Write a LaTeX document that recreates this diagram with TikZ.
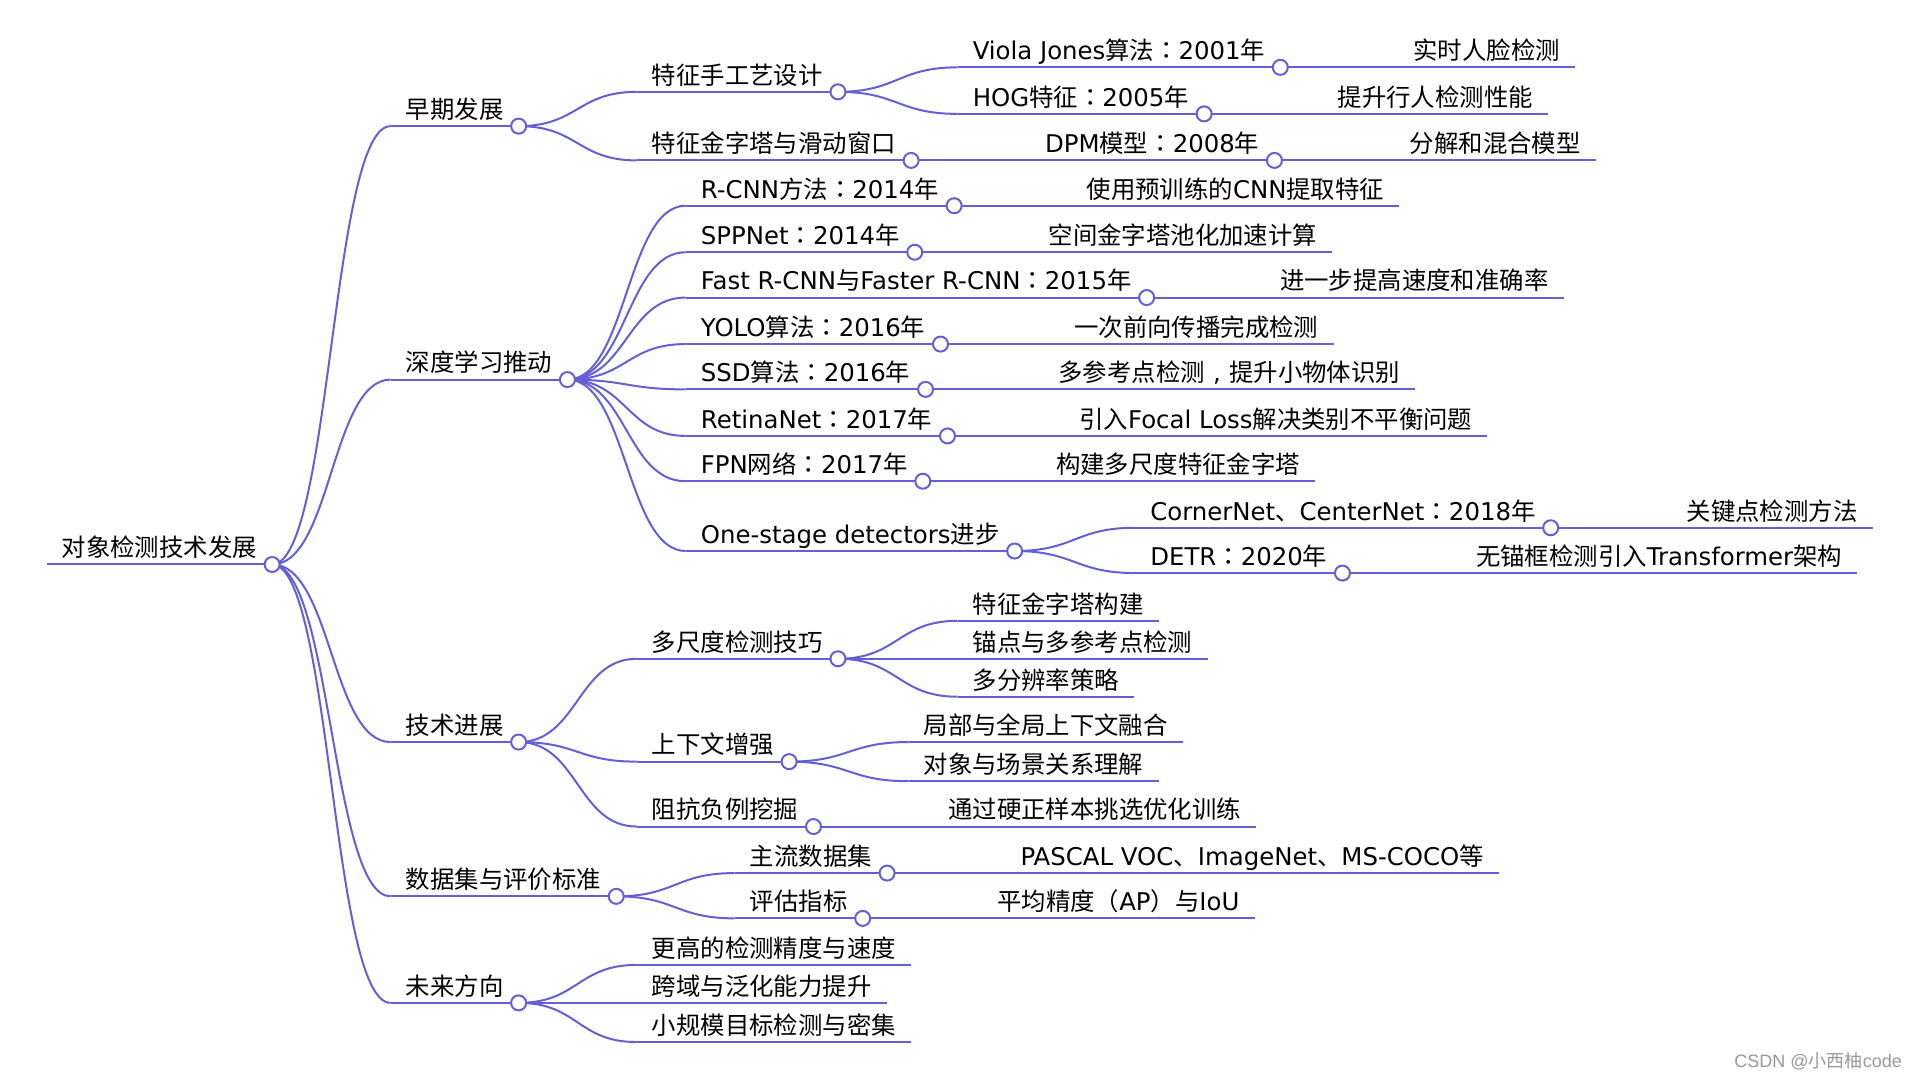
\documentclass[tikz,border=0pt]{standalone}
\usepackage{fontspec}
\setmainfont{DejaVu Sans}
\newfontfamily\zhfont{Noto Sans CJK SC}
\newfontfamily\krfont{Noto Sans CJK KR}
\newfontfamily\wmfont{Liberation Sans}
\usetikzlibrary{calc}
\definecolor{branchc}{RGB}{100,95,215}
\newcommand\en[1]{{\rmfamily #1}}
\newcommand\fcol{{\krfont ：}}
\newcommand\fcom{\makebox[1em]{\rmfamily ,}}
% horizontal link from a parent's dot to a child's underline
\newcommand\lnk[2]{%
  \path (#1.south east) coordinate (s) (#2.south west) coordinate (t);
  \path ($(s)!0.5!(t)$) coordinate (m);
  \draw[branch] (s) .. controls (m |- s) and (m |- t) .. (t);}
\begin{document}
\begin{tikzpicture}[x=1.22449pt,y=1.22449pt,yscale=-1,
  tp/.style={anchor=south west,inner xsep=15pt,inner ysep=7.5pt,text depth=0pt,
    font=\zhfont\fontsize{24.4pt}{29pt}\selectfont},
  branch/.style={draw=branchc,line width=2pt},
  dot/.style={draw=branchc,fill=white,line width=2pt}]
\useasboundingbox (0,0) rectangle (1568,882);

% Root
\node[tp] (root) at (38,461) {对象检测技术发展};

% Level 1
\node[tp] (early) at (319,103) {早期发展};
\node[tp] (deep) at (319,310) {深度学习推动};
\node[tp] (tech) at (319,606) {技术进展};
\node[tp] (data) at (319,732) {数据集与评价标准};
\node[tp] (future) at (319,819) {未来方向};

% Early development
\node[tp] (hand) at (520,75) {特征手工艺设计};
\node[tp] (pyr) at (520,131) {特征金字塔与滑动窗口};
\node[tp] (viola) at (782,55) {\en{Viola Jones}算法\fcol\en{2001}年};
\node[tp] (hog) at (782,93) {\en{HOG}特征\fcol\en{2005}年};
\node[tp] (dpm) at (841,131) {\en{DPM}模型\fcol\en{2008}年};
\node[tp] (face) at (1142,55) {实时人脸检测};
\node[tp] (ped) at (1080,93) {提升行人检测性能};
\node[tp] (mix) at (1139,131) {分解和混合模型};

% Deep learning
\node[tp] (rcnn) at (560,168) {\en{R-CNN}方法\fcol\en{2014}年};
\node[tp] (spp) at (560,206) {\en{SPPNet}\fcol\en{2014}年};
\node[tp] (fast) at (560,243) {\en{Fast R-CNN}与\en{Faster R-CNN}\fcol\en{2015}年};
\node[tp] (yolo) at (560,281) {\en{YOLO}算法\fcol\en{2016}年};
\node[tp] (ssd) at (560,318) {\en{SSD}算法\fcol\en{2016}年};
\node[tp] (retina) at (560,356) {\en{RetinaNet}\fcol\en{2017}年};
\node[tp] (fpn) at (560,393) {\en{FPN}网络\fcol\en{2017}年};
\node[tp] (onest) at (560,450) {\en{One-stage detectors}进步};
\node[tp] (rcnnx) at (875,168) {使用预训练的\en{CNN}提取特征};
\node[tp] (sppx) at (844,206) {空间金字塔池化加速计算};
\node[tp] (fastx) at (1033,243) {进一步提高速度和准确率};
\node[tp] (yolox) at (865,281) {一次前向传播完成检测};
\node[tp] (ssdx) at (852,318) {多参考点检测\fcom 提升小物体识别};
\node[tp] (retinax) at (869,356) {引入\en{Focal Loss}解决类别不平衡问题};
\node[tp] (fpnx) at (850,393) {构建多尺度特征金字塔};
\node[tp] (corner) at (927,431) {\en{CornerNet}、\en{CenterNet}\fcol\en{2018}年};
\node[tp] (detr) at (927,468) {\en{DETR}\fcol\en{2020}年};
\node[tp] (cornerx) at (1365,431) {关键点检测方法};
\node[tp] (detrx) at (1193,468) {无锚框检测引入\en{Transformer}架构};

% Techniques
\node[tp] (multi) at (520,538) {多尺度检测技巧};
\node[tp] (ctx) at (520,622) {上下文增强};
\node[tp] (neg) at (520,675) {阻抗负例挖掘};
\node[tp] (m1) at (782,507) {特征金字塔构建};
\node[tp] (m2) at (782,538) {锚点与多参考点检测};
\node[tp] (m3) at (782,569) {多分辨率策略};
\node[tp] (c1) at (742,606) {局部与全局上下文融合};
\node[tp] (c2) at (742,638) {对象与场景关系理解};
\node[tp] (negx) at (762,675) {通过硬正样本挑选优化训练};

% Datasets
\node[tp] (mainset) at (600,713) {主流数据集};
\node[tp] (metric) at (600,750) {评估指标};
\node[tp] (mainsetx) at (821,713) {\en{PASCAL VOC}、\en{ImageNet}、\en{MS-COCO}等};
\node[tp] (metricx) at (802,750) {平均精度（\en{AP}）与\en{IoU}};

% Future
\node[tp] (f1) at (520,788) {更高的检测精度与速度};
\node[tp] (f2) at (520,819) {跨域与泛化能力提升};
\node[tp] (f3) at (520,851) {小规模目标检测与密集};

% Curve Lines
\foreach \p/\c in {root/early,root/deep,root/tech,root/data,root/future,
  early/hand,early/pyr,hand/viola,hand/hog,viola/face,hog/ped,pyr/dpm,dpm/mix,
  deep/rcnn,deep/spp,deep/fast,deep/yolo,deep/ssd,deep/retina,deep/fpn,deep/onest,
  rcnn/rcnnx,spp/sppx,fast/fastx,yolo/yolox,ssd/ssdx,retina/retinax,fpn/fpnx,
  onest/corner,onest/detr,corner/cornerx,detr/detrx,
  tech/multi,tech/ctx,tech/neg,multi/m1,multi/m2,multi/m3,ctx/c1,ctx/c2,neg/negx,
  data/mainset,data/metric,mainset/mainsetx,metric/metricx,
  future/f1,future/f2,future/f3}
  \lnk{\p}{\c};

% Underlines
\foreach \n in {root,early,deep,tech,data,future,hand,pyr,viola,hog,dpm,face,ped,mix,
  rcnn,spp,fast,yolo,ssd,retina,fpn,onest,rcnnx,sppx,fastx,yolox,ssdx,retinax,fpnx,
  corner,detr,cornerx,detrx,multi,ctx,neg,m1,m2,m3,c1,c2,negx,
  mainset,metric,mainsetx,metricx,f1,f2,f3}
  \draw[branch] (\n.south west) -- (\n.south east);

% Dots
\foreach \n in {root,early,deep,tech,data,future,hand,pyr,viola,hog,dpm,
  rcnn,spp,fast,yolo,ssd,retina,fpn,onest,corner,detr,multi,ctx,neg,mainset,metric}
  \draw[dot] (\n.south east) circle[radius=7.5pt];

% Watermark
\node[anchor=east,text=black!40,font=\fontsize{18pt}{22pt}\selectfont] (wm) at (1556,867)
  {\wmfont CSDN @{\zhfont 小西柚}code};
\end{tikzpicture}
\end{document}
